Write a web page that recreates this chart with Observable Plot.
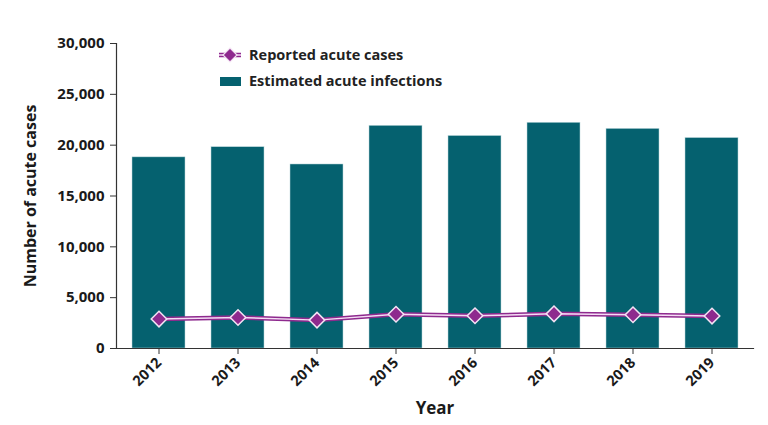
<!DOCTYPE html>
<html><head><meta charset="utf-8">
<script src="https://cdn.jsdelivr.net/npm/d3@7"></script>
<script src="https://cdn.jsdelivr.net/npm/@observablehq/plot@0.6"></script>
<style>
body{margin:0;background:#fff;font-family:"Open Sans",sans-serif;}
#wrap{position:relative;width:768px;height:425px;}
.legend{position:absolute;left:218px;top:42px;font-size:14.5px;font-weight:700;color:#222;line-height:26px;}
.legend div{display:flex;align-items:center;}
.legend svg{margin-right:7px;}
</style></head><body><div id="wrap"></div>
<script>
const years = ["2012","2013","2014","2015","2016","2017","2018","2019"];
const estimated = [18800,19800,18100,21900,20900,22200,21600,20700];
const reported = [2895,3050,2791,3370,3218,3407,3322,3192];
const yTicks = [0,5000,10000,15000,20000,25000,30000];
const seriesNames = ["Reported acute cases","Estimated acute infections"];
const purple = "#8e2a8e", teal = "#05616f";
const data = years.map((y,i)=>({year:y, est:estimated[i], rep:reported[i]}));

const chart = Plot.plot({
  width:768, height:425, marginLeft:116, marginRight:15, marginTop:43, marginBottom:77,
  style:{fontFamily:"Open Sans", fontSize:"14px", fontWeight:700, color:"#1a1a1a", background:"white"},
  x:{type:"band", domain:years, paddingInner:0.33, paddingOuter:0.19, label:null},
  y:{domain:[0,30000], label:null},
  marks:[
    Plot.barY(data,{x:"year",y:"est",fill:teal,stroke:"#bcd8dc",strokeWidth:0.5}),
    Plot.line(data,{x:"year",y:"rep",stroke:purple,strokeWidth:4.5}),
    Plot.line(data,{x:"year",y:"rep",stroke:"#f5dcf5",strokeWidth:1.5}),
    Plot.dot(data,{x:"year",y:"rep",symbol:"diamond2",r:7,fill:purple,stroke:"#f3e3f3",strokeWidth:1.5}),
    Plot.axisY({ticks:yTicks, tickFormat:d3.format(","), tickSize:6, tickPadding:6, fontSize:15, stroke:"#333",
      label:"Number of acute cases", labelAnchor:"center", labelArrow:"none", labelOffset:92}),
    Plot.axisX({tickRotate:-45, tickSize:6, fontSize:14.5, stroke:"#333",
      label:"Year", labelAnchor:"center", labelArrow:"none", labelOffset:65}),
    Plot.frame({anchor:"left", stroke:"#333", strokeWidth:1.2}),
    Plot.frame({anchor:"bottom", stroke:"#333", strokeWidth:1.2})
  ]
});
const wrap = document.getElementById("wrap");
wrap.appendChild(chart);
chart.querySelectorAll('g[aria-label="y-axis label"] text').forEach(t=>t.style.fontSize="16px");
chart.querySelectorAll('g[aria-label="x-axis label"] text').forEach(t=>t.style.fontSize="17px");

const leg = document.createElement("div");
leg.className = "legend";
leg.innerHTML = `
<div><svg width="24" height="16"><line x1="1" y1="8" x2="23" y2="8" stroke="${purple}" stroke-width="4.5"/><line x1="1" y1="8" x2="23" y2="8" stroke="#f5dcf5" stroke-width="1.5"/><path d="M12 1 L19 8 L12 15 L5 8 Z" fill="${purple}" stroke="#f3e3f3" stroke-width="1.2"/></svg>${seriesNames[0]}</div>
<div><svg width="24" height="16"><rect x="2" y="4" width="21" height="9" fill="${teal}"/></svg>${seriesNames[1]}</div>`;
wrap.appendChild(leg);
</script></body></html>
